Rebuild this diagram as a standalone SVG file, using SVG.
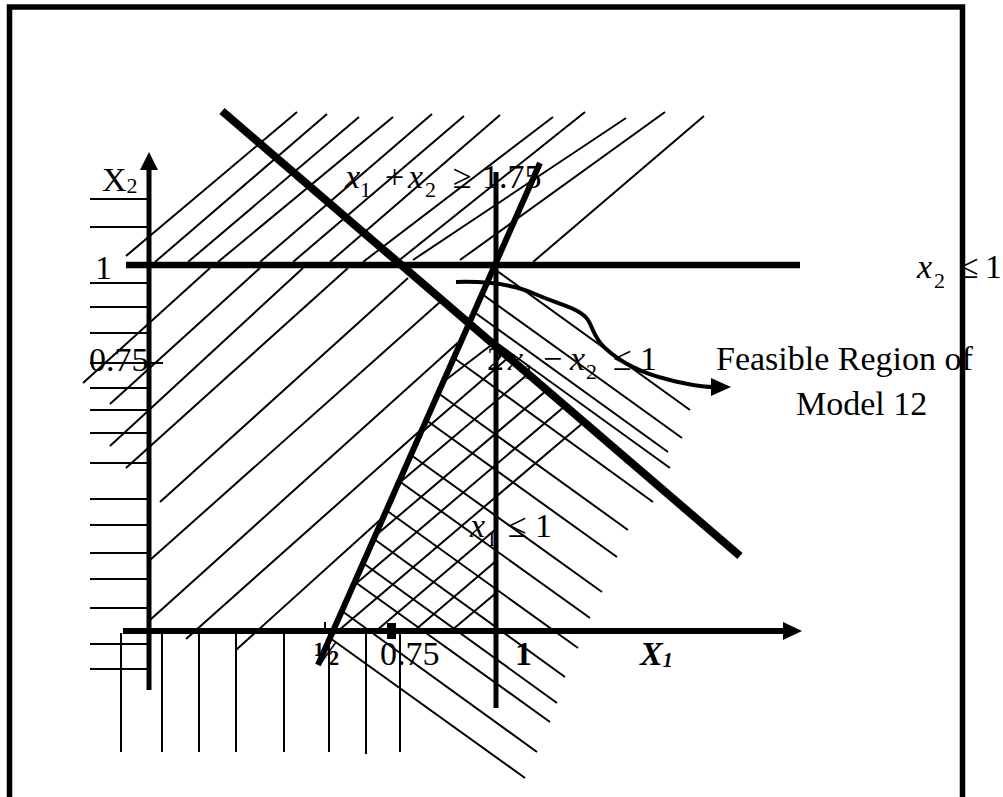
<svg xmlns="http://www.w3.org/2000/svg" width="1003" height="797" viewBox="0 0 1003 797">
<style>
.h{stroke:#000;stroke-width:2;fill:none}
.k{stroke:#000;fill:none}
.t{font-family:"Liberation Serif","Times New Roman",serif;font-size:34px;fill:#000}
.s{font-size:22px}
.i{font-style:italic}
</style>
<rect width="1003" height="797" fill="#fff"/>
<g id="frame"><rect x="9.5" y="7" width="953" height="810" class="k" stroke-width="5.5"/></g>
<g id="hatch-left">
<line class="h" x1="90" y1="199" x2="147" y2="199"/>
<line class="h" x1="90" y1="227" x2="147" y2="227"/>
<line class="h" x1="90" y1="283" x2="147" y2="283"/>
<line class="h" x1="90" y1="307" x2="147" y2="307"/>
<line class="h" x1="90" y1="333" x2="147" y2="333"/>
<line class="h" x1="90" y1="363" x2="163" y2="363"/>
<line class="h" x1="90" y1="388" x2="147" y2="388"/>
<line class="h" x1="90" y1="410" x2="147" y2="410"/>
<line class="h" x1="90" y1="433" x2="147" y2="433"/>
<line class="h" x1="90" y1="463" x2="147" y2="463"/>
<line class="h" x1="90" y1="499" x2="147" y2="499"/>
<line class="h" x1="90" y1="525" x2="147" y2="525"/>
<line class="h" x1="90" y1="553" x2="147" y2="553"/>
<line class="h" x1="90" y1="579" x2="147" y2="579" stroke-width="3.5"/>
<line class="h" x1="90" y1="608" x2="147" y2="608"/>
<line class="h" x1="90" y1="644" x2="147" y2="644"/>
<line class="h" x1="90" y1="669" x2="147" y2="669"/>
</g>
<g id="hatch-bottom">
<line class="h" x1="121" y1="633" x2="121" y2="752"/>
<line class="h" x1="162" y1="634" x2="162" y2="752"/>
<line class="h" x1="199" y1="634" x2="199" y2="752"/>
<line class="h" x1="236" y1="634" x2="236" y2="752"/>
<line class="h" x1="284" y1="634" x2="284" y2="752"/>
<line class="h" x1="329" y1="634" x2="329" y2="752"/>
<line class="h" x1="366" y1="634" x2="366" y2="754"/>
<line class="h" x1="400" y1="634" x2="400" y2="752"/>
</g>
<g id="hatch-top">
<line class="h" x1="297" y1="112" x2="126" y2="256"/>
<line class="h" x1="327" y1="114" x2="155" y2="262"/>
<line class="h" x1="359" y1="117" x2="188" y2="262"/>
<line class="h" x1="393" y1="117" x2="218" y2="262"/>
<line class="h" x1="432" y1="114" x2="260" y2="262"/>
<line class="h" x1="464" y1="116" x2="293" y2="262"/>
<line class="h" x1="500" y1="115" x2="330" y2="262"/>
<line class="h" x1="553" y1="117" x2="363" y2="262"/>
<line class="h" x1="585" y1="112" x2="397" y2="262"/>
<line class="h" x1="626" y1="118" x2="413" y2="260"/>
<line class="h" x1="665" y1="112" x2="460" y2="260"/>
<line class="h" x1="704" y1="116" x2="533" y2="262"/>
</g>
<g id="hatch-mid">
<line class="h" x1="83" y1="383" x2="210" y2="268"/>
<line class="h" x1="110" y1="404" x2="260" y2="268"/>
<line class="h" x1="110" y1="446" x2="303" y2="268"/>
<line class="h" x1="126" y1="468" x2="348" y2="268"/>
<line class="h" x1="160" y1="502" x2="408" y2="278"/>
<line class="h" x1="150" y1="560" x2="440" y2="302"/>
<line class="h" x1="150" y1="620" x2="462" y2="339"/>
<line class="h" x1="186" y1="639" x2="423" y2="428"/>
<line class="h" x1="236" y1="650" x2="380" y2="520"/>
</g>
<g id="hatch-band">
<line class="h" x1="493" y1="268" x2="690" y2="410"/>
<line class="h" x1="482" y1="294" x2="682" y2="438"/>
<line class="h" x1="474" y1="312" x2="668" y2="452"/>
<line class="h" x1="469" y1="323" x2="670" y2="468"/>
<line class="h" x1="454" y1="358" x2="653" y2="502"/>
<line class="h" x1="438" y1="393" x2="628" y2="530"/>
<line class="h" x1="426" y1="420" x2="617" y2="557"/>
<line class="h" x1="411" y1="455" x2="602" y2="592"/>
<line class="h" x1="399" y1="481" x2="590" y2="618"/>
<line class="h" x1="386" y1="510" x2="578" y2="648"/>
<line class="h" x1="374" y1="539" x2="565" y2="677"/>
<line class="h" x1="363" y1="563" x2="557" y2="703"/>
<line class="h" x1="355" y1="582" x2="550" y2="722"/>
<line class="h" x1="342" y1="611" x2="537" y2="752"/>
<line class="h" x1="330" y1="638" x2="525" y2="778"/>
</g>
<g id="hatch-cross">
<line class="h" x1="443" y1="382" x2="490" y2="346"/>
<line class="h" x1="421" y1="433" x2="509" y2="357"/>
<line class="h" x1="398" y1="484" x2="528" y2="374"/>
<line class="h" x1="375" y1="536" x2="547" y2="390"/>
<line class="h" x1="352" y1="587" x2="565" y2="406"/>
<line class="h" x1="338" y1="631" x2="584" y2="422"/>
<line class="h" x1="376" y1="631" x2="496" y2="529"/>
<line class="h" x1="414" y1="631" x2="496" y2="561"/>
<line class="h" x1="451" y1="631" x2="496" y2="593"/>
</g>
<g id="axes">
<line class="k" x1="149" y1="690" x2="149" y2="166" stroke-width="5"/>
<polygon points="149,152 140,170 158,170"/>
<line class="k" x1="123" y1="631" x2="786" y2="631" stroke-width="6"/>
<polygon points="802,631 783,622 783,640"/>
<rect x="387" y="623" width="9" height="16"/>
<line class="k" x1="325" y1="622" x2="325" y2="633" stroke-width="2"/>
</g>
<g id="constraints">
<line class="k" x1="126" y1="265" x2="800" y2="265" stroke-width="6.5"/>
<line class="k" x1="496" y1="172" x2="496" y2="708" stroke-width="5"/>
<line class="k" x1="222" y1="111" x2="740" y2="556" stroke-width="8"/>
<line class="k" x1="318" y1="665" x2="540" y2="163" stroke-width="6"/>
</g>
<g id="pointer">
<path class="k" stroke-width="4" d="M456,282 C490,281 515,285 535,294 C560,305 580,308 588,320 C594,330 594,338 605,348 C620,362 640,373 670,380 C690,385 700,387 713,387"/>
<polygon points="731,387 711,378 711,396"/>
</g>
<g id="labels">
<text class="t" x="102" y="191">X<tspan class="s" dy="2">2</tspan></text>
<text class="t" x="95" y="279">1</text>
<text class="t" x="89" y="371">0.75</text>
<text class="t" y="188"><tspan x="345" class="i">x</tspan><tspan x="360" y="197" class="s">1</tspan><tspan x="385" y="188">+</tspan><tspan x="408" class="i">x</tspan><tspan x="425" y="197" class="s">2</tspan><tspan x="453" y="188">≥</tspan><tspan x="482">1.75</tspan></text>
<text class="t" y="278"><tspan x="917" class="i">x</tspan><tspan x="934" y="288" class="s">2</tspan><tspan x="960" y="278">≤</tspan><tspan x="985">1</tspan></text>
<text class="t" y="370"><tspan x="487">2</tspan><tspan x="508" class="i">x</tspan><tspan x="523" y="379" class="s">1</tspan><tspan x="543" y="370">−</tspan><tspan x="570" class="i">x</tspan><tspan x="586" y="379" class="s">2</tspan><tspan x="613" y="370">≤</tspan><tspan x="640">1</tspan></text>
<text class="t" y="537"><tspan x="470" class="i">x</tspan><tspan x="486" y="546" class="s">1</tspan><tspan x="508" y="537">≤</tspan><tspan x="535">1</tspan></text>
<text class="t" x="716" y="370">Feasible Region of</text>
<text class="t" x="796" y="415">Model 12</text>
<text class="t" x="314" y="665" font-weight="bold" font-size="30">½</text>
<text class="t" x="380" y="665">0.75</text>
<text class="t" x="515" y="665" font-weight="bold" font-size="30">1</text>
<text class="t" x="640" y="665" font-weight="bold" font-style="italic" font-size="30">X<tspan font-size="20" dy="2">1</tspan></text>
</g>
</svg>
